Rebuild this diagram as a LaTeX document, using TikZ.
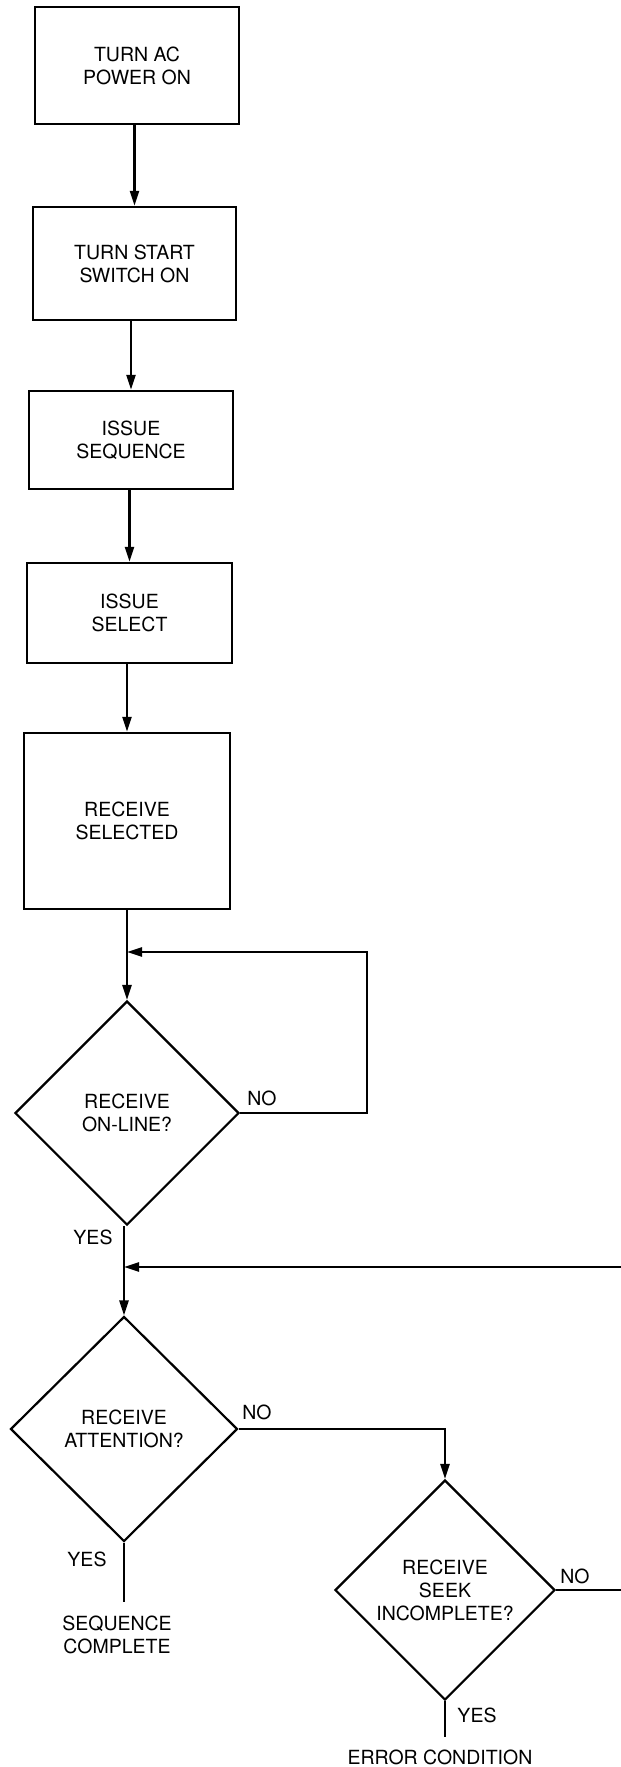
\documentclass[tikz,border=0pt]{standalone}
\usepackage{fontspec}
\setmainfont{TeX Gyre Heros}
\usetikzlibrary{arrows.meta,shapes.geometric}
\begin{document}
\begin{tikzpicture}[x=1pt,y=-1pt,
  every node/.style={font=\fontsize{19.5}{23}\selectfont},
  box/.style={draw,line width=2.4pt,align=center,inner sep=0pt},
  dia/.style={draw,diamond,aspect=1,line width=2.2pt,align=center,inner sep=0pt},
  lbl/.style={inner sep=0pt,align=center},
  ln/.style={line width=2.4pt},
  arr/.style={line width=2.4pt,-{Triangle[length=15pt,width=9pt]}}]
\useasboundingbox (0,0) rectangle (621,1767);

\node[box,minimum width=204pt,minimum height=117pt] (b1) at (137,65.5) {TURN AC\\POWER ON};
\node[box,minimum width=203pt,minimum height=113pt] (b2) at (134.5,263.5) {TURN START\\SWITCH ON};
\node[box,minimum width=204pt,minimum height=98pt] (b3) at (131,440) {ISSUE\\SEQUENCE};
\node[box,minimum width=205pt,minimum height=100pt] (b4) at (129.5,613) {ISSUE\\SELECT};
\node[box,minimum width=206pt,minimum height=176pt] (b5) at (127,821) {RECEIVE\\SELECTED};

\node[dia,minimum width=224pt,minimum height=224pt] (d1) at (127,1113) {RECEIVE\\ON-LINE?};
\node[dia,minimum width=227pt,minimum height=225pt] (d2) at (124,1429) {RECEIVE\\ATTENTION?};
\node[dia,minimum width=220pt,minimum height=220pt] (d3) at (445,1590) {RECEIVE\\SEEK\\INCOMPLETE?};

\node[lbl] (no1) at (262,1098) {NO};
\node[lbl] (yes1) at (93,1237) {YES};
\node[lbl] (no2) at (257,1412) {NO};
\node[lbl] (yes2) at (87,1559) {YES};
\node[lbl] (sc) at (117,1635) {SEQUENCE\\COMPLETE};
\node[lbl] (no3) at (575,1576) {NO};
\node[lbl] (yes3) at (477,1715) {YES};
\node[lbl] (err) at (440,1757) {ERROR CONDITION};

\coordinate (j1) at (127,952);
\coordinate (c1) at (367,952);
\coordinate (j2) at (124,1267);
\coordinate (e2) at (621,1267);
\coordinate (t2) at (124,1602);
\coordinate (t3) at (445,1737);
\coordinate (e3) at (621,1590);

\draw[arr] (b2.north |- b1.south) -- (b2.north);
\draw[arr] (b3.north |- b2.south) -- (b3.north);
\draw[arr] (b4.north |- b3.south) -- (b4.north);
\draw[arr] (b5.north |- b4.south) -- (b5.north);
\draw[arr] (d1.north |- b5.south) -- (d1.north);
\draw[arr] (d1.east) -| (c1) -- (j1);
\draw[arr] (d2.north |- d1.south) -- (d2.north);
\draw[arr] (e2) -- (j2);
\draw[arr] (d2.east) -| (d3.north);
\draw[ln] (d2.south) -- (t2);
\draw[ln] (d3.south) -- (t3);
\draw[ln] (d3.east) -- (e3);
\end{tikzpicture}
\end{document}
